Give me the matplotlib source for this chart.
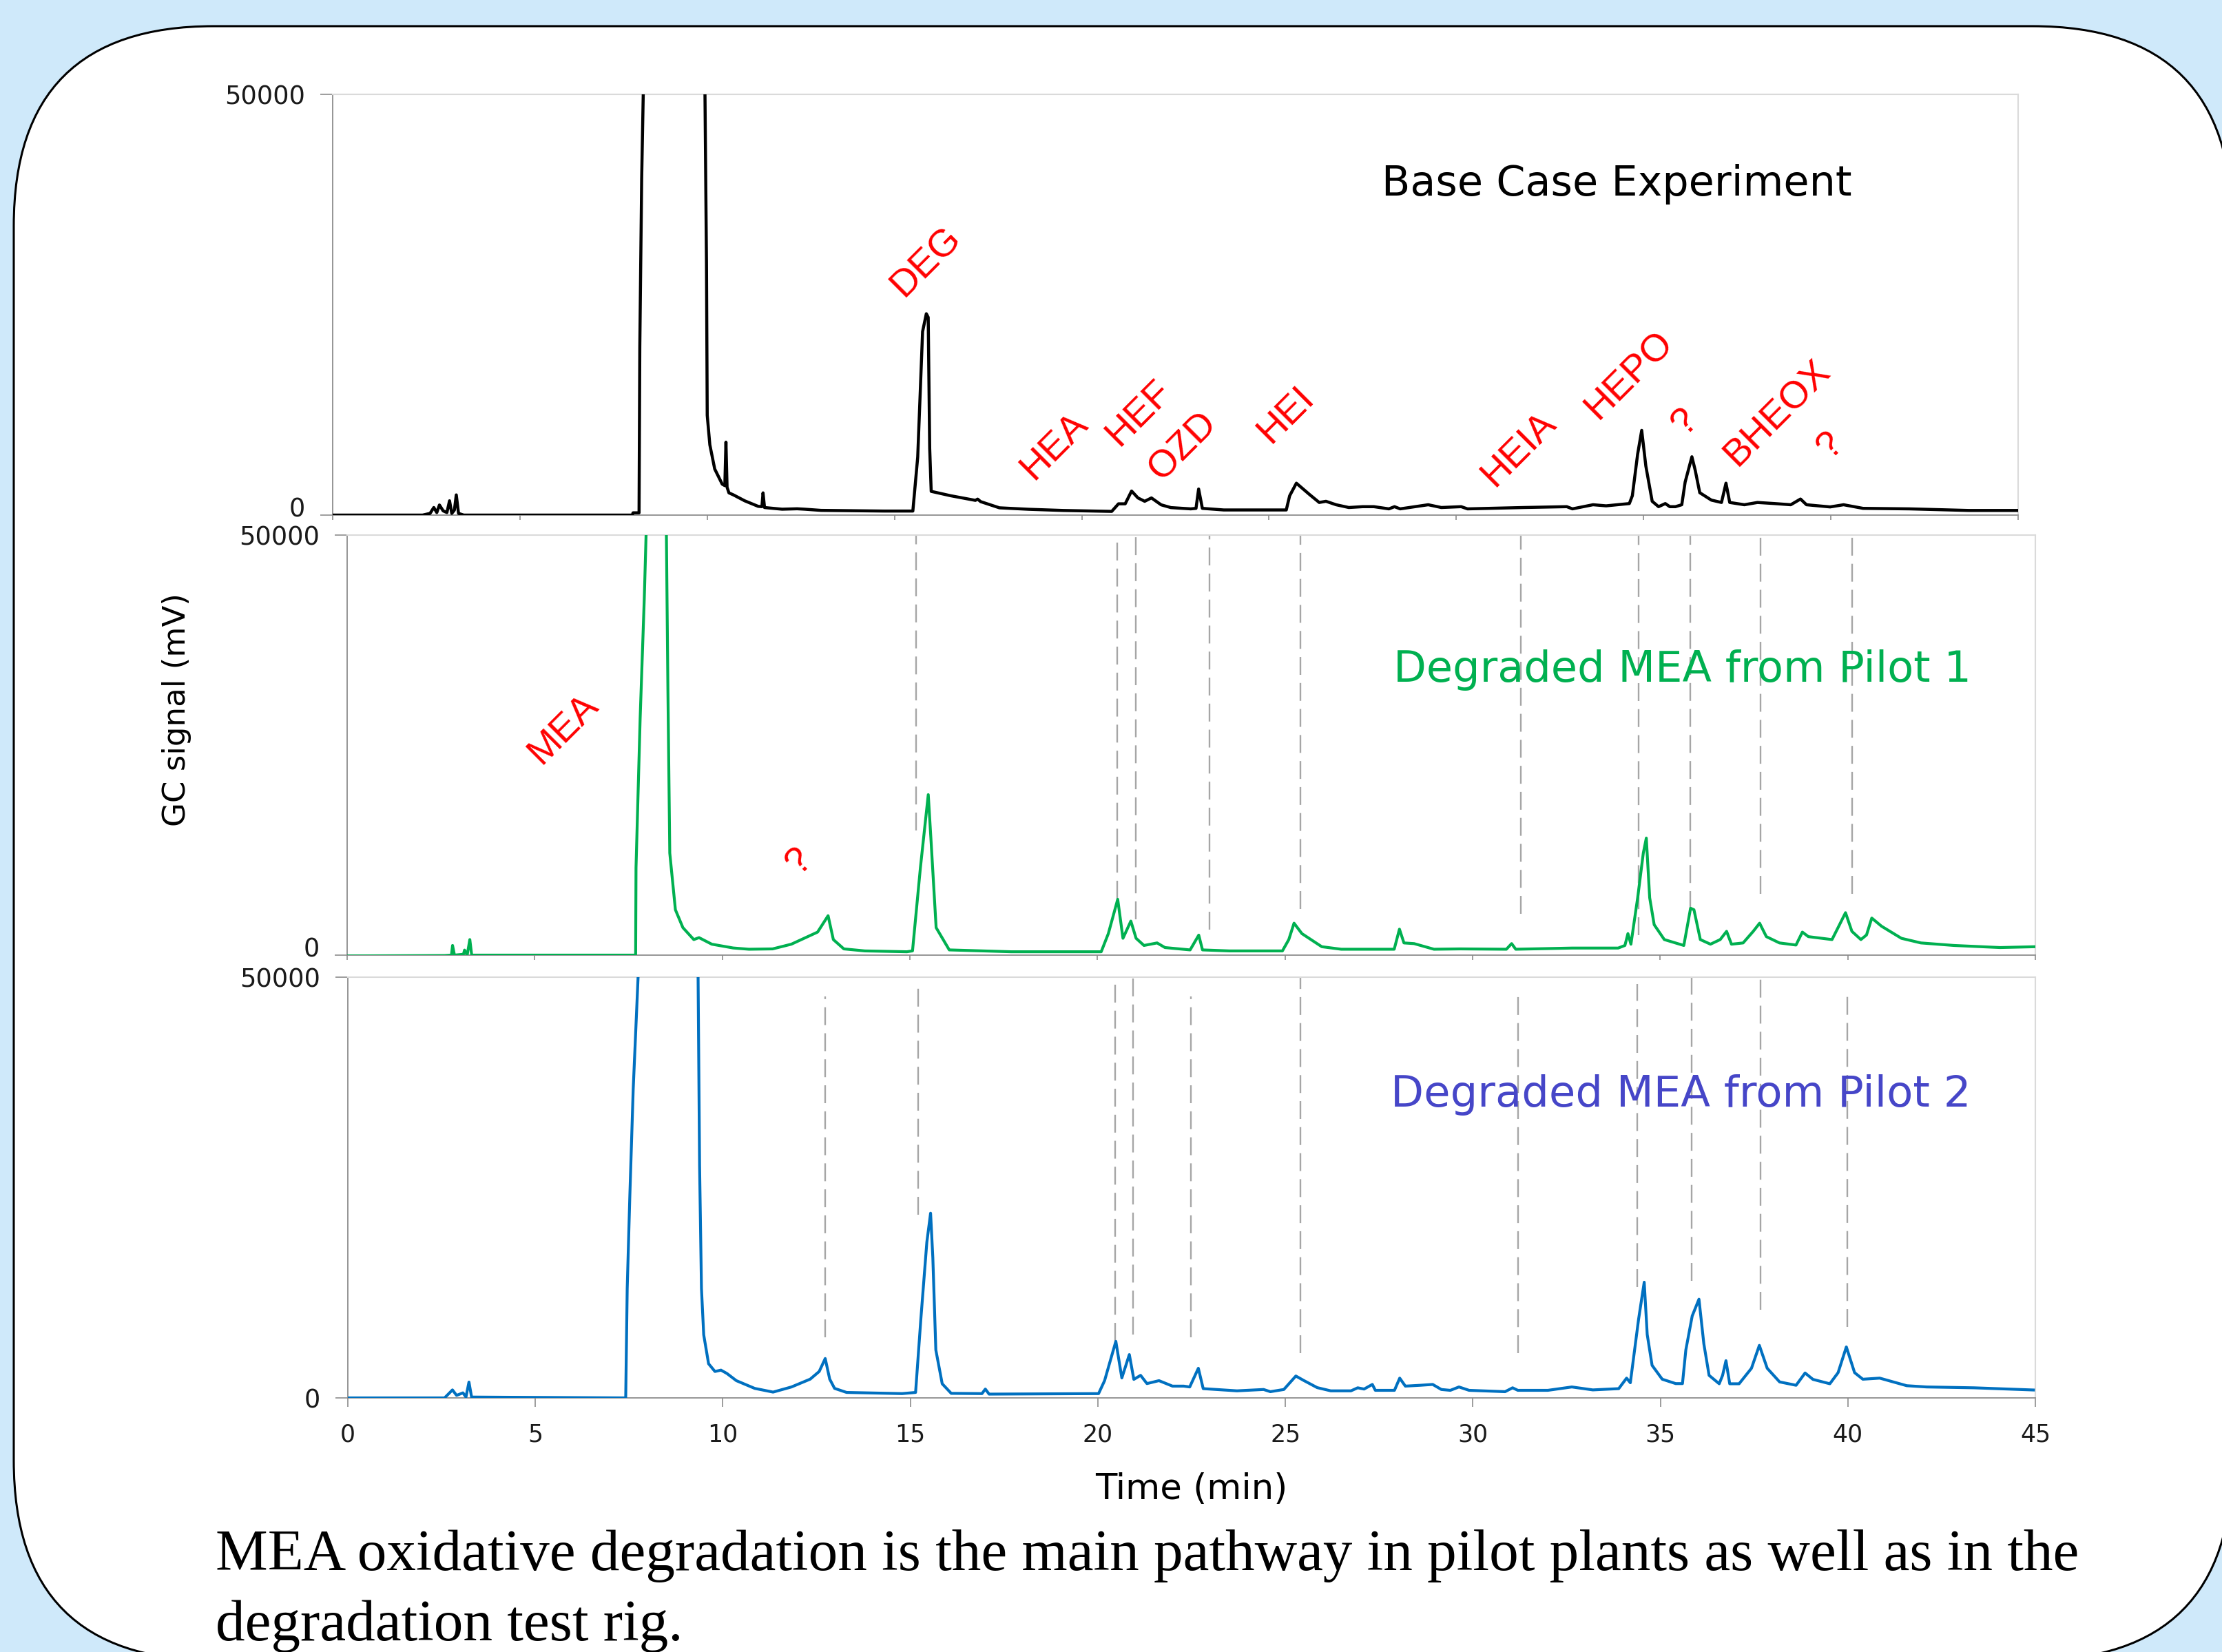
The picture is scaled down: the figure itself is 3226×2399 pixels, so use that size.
import matplotlib
matplotlib.use("Agg")
import matplotlib.pyplot as plt
import matplotlib.transforms as mtransforms
from matplotlib.patches import FancyBboxPatch

# ------------------------------------------------------------
# Chromatogram traces (time in min, signal in mV)
# ------------------------------------------------------------
base_time = [0, 2.4, 2.6, 2.7, 2.78, 2.85, 2.95, 3.05, 3.12, 3.18, 3.25, 3.3, 3.36, 3.5,
             8.0, 8.02, 8.18, 8.2, 8.25, 8.3, 8.4, 9.9, 9.98, 10.0, 10.07, 10.2, 10.4,
             10.47, 10.5, 10.53, 10.58, 10.7, 11.0, 11.36, 11.46, 11.49, 11.53, 11.62,
             12.0, 12.4, 12.6, 13.04, 14.72, 15.49, 15.62, 15.75, 15.85, 15.9, 15.94,
             15.98, 16.5, 17.16, 17.22, 17.3, 17.8, 18.58, 19.5, 20.8, 20.98, 21.16,
             21.33, 21.5, 21.68, 21.86, 22.12, 22.38, 22.91, 23.05, 23.12, 23.22, 23.79,
             25.46, 25.55, 25.73, 26.08, 26.34, 26.52, 26.79, 27.13, 27.5, 27.8, 28.2,
             28.35, 28.5, 29.25, 29.6, 30.13, 30.3, 31.8, 32.95, 33.1, 33.65, 34.0,
             34.62, 34.7, 34.84, 34.95, 35.06, 35.23, 35.4, 35.58, 35.7, 35.85, 36.02,
             36.11, 36.29, 36.38, 36.5, 36.81, 37.08, 37.2, 37.3, 37.69, 38.04, 38.5,
             38.93, 39.19, 39.35, 39.98, 40.34, 40.86, 42.09, 43.68, 45]
base_signal = [0, 0, 200, 900, 300, 1200, 500, 300, 1700, 200, 600, 2400, 200, 0,
               0, 270, 270, 20000, 40000, 52000, 70000, 70000, 30000, 11860, 8350, 5480, 3680,
               3500, 8670, 3300, 2640, 2400, 1700, 1040, 1000, 2640, 900, 860,
               700, 750, 700, 560, 480, 480, 6900, 21800, 23930, 23500, 7950,
               2820, 2300, 1750, 1900, 1600, 865, 690, 550, 440, 1340, 1340,
               2860, 2040, 1640, 2040, 1220, 890, 740, 800, 3100, 800, 610,
               610, 2290, 3790, 2450, 1500, 1640, 1230, 900, 1000, 1000, 740,
               1000, 740, 1230, 900, 1000, 740, 900, 1000, 740, 1230, 1100,
               1370, 2300, 7200, 10070, 5840, 1640, 1000, 1370, 1000, 1000, 1230,
               3930, 6930, 5300, 2660, 1780, 1500, 3790, 1500, 1230, 1500, 1370,
               1230, 1910, 1230, 970, 1230, 800, 740, 550, 550]

pilot1_time = [0, 2.6, 2.78, 2.81, 2.86, 3.1, 3.13, 3.2, 3.27, 3.32, 5, 7.69, 7.7, 7.81,
               7.92, 8.0, 8.1, 8.45, 8.51, 8.55, 8.6, 8.75, 8.95, 9.24, 9.38, 9.72, 10.29,
               10.71, 11.34, 11.84, 12.54, 12.82, 12.96, 13.24, 13.8, 14.92, 15.07, 15.28,
               15.49, 15.56, 15.7, 16.05, 17.7, 19.98, 20.1, 20.29, 20.54, 20.68, 20.89,
               21.03, 21.24, 21.59, 21.8, 22.47, 22.7, 22.8, 23.52, 24.93, 25.1, 25.24,
               25.45, 25.98, 26.5, 27.91, 28.05, 28.17, 28.44, 28.97, 29.67, 30.9, 31.04,
               31.15, 32.65, 33.88, 34.06, 34.14, 34.22, 34.4, 34.55, 34.63, 34.72, 34.84,
               35.11, 35.63, 35.81, 35.9, 36.07, 36.34, 36.6, 36.77, 36.9, 37.21, 37.48,
               37.65, 37.83, 38.18, 38.62, 38.79, 38.95, 39.58, 39.76, 39.94, 40.11, 40.35,
               40.5, 40.64, 40.9, 41.43, 41.95, 42.83, 44.06, 45]
pilot1_signal = [-100, -50, 0, 1150, 0, 100, 600, 0, 1850, 0, 0, 0, 10400, 28150,
                 42380, 55000, 70000, 70000, 50000, 31700, 12150, 5400, 3270, 1850, 2080, 1300, 850,
                 700, 740, 1300, 2740, 4690, 1850, 740, 500, 400, 500, 10380,
                 19100, 13930, 3270, 620, 400, 400, 400, 2560, 6640, 2000, 4050,
                 2000, 1150, 1450, 900, 620, 2380, 620, 500, 500, 1850, 3800,
                 2560, 1000, 700, 700, 3090, 1450, 1370, 700, 740, 700, 1370,
                 700, 840, 840, 1150, 2560, 1300, 6830, 12150, 13930, 6830, 3620,
                 1850, 1150, 5580, 5400, 1850, 1300, 1850, 2830, 1300, 1450, 2830,
                 3800, 2200, 1450, 1200, 2740, 2200, 1850, 3440, 5050, 2830, 1850,
                 2400, 4410, 3440, 2000, 1450, 1150, 900, 1000]

pilot2_time = [0, 2.58, 2.79, 2.9, 3.07, 3.15, 3.23, 3.3, 7.41, 7.45, 7.52, 7.61, 7.74,
               7.9, 9.3, 9.34, 9.38, 9.43, 9.49, 9.62, 9.79, 9.95, 10.11, 10.36, 10.85,
               11.34, 11.83, 12.33, 12.57, 12.73, 12.85, 12.98, 13.3, 14.78, 15.14, 15.28,
               15.44, 15.54, 15.6, 15.68, 15.85, 16.09, 16.91, 17.0, 17.1, 20.02, 20.18,
               20.48, 20.64, 20.84, 20.96, 21.14, 21.31, 21.63, 21.99, 22.29, 22.45, 22.68,
               22.81, 23.71, 24.42, 24.6, 24.96, 25.28, 25.5, 25.85, 26.21, 26.75, 26.93,
               27.1, 27.32, 27.4, 27.91, 28.05, 28.2, 28.6, 28.93, 29.16, 29.4, 29.63,
               29.9, 30.86, 31.06, 31.2, 32.0, 32.64, 33.2, 33.89, 34.1, 34.2, 34.42,
               34.57, 34.65, 34.78, 35.05, 35.41, 35.59, 35.68, 35.85, 36.03, 36.16, 36.3,
               36.57, 36.66, 36.75, 36.85, 37.1, 37.43, 37.64, 37.85, 38.18, 38.62, 38.86,
               39.07, 39.52, 39.74, 39.96, 40.18, 40.4, 40.85, 41.21, 41.57, 42.1, 43.36,
               44.95]
pilot2_signal = [0, 0, 950, 300, 600, 100, 1880, 100, 0, 13000, 24000, 36700, 50000,
                 70000, 70000, 50000, 27600, 13000, 7500, 4060, 3140, 3300, 2900, 2050, 1130,
                 690, 1300, 2230, 3140, 4680, 2230, 1130, 650, 510, 650, 9350,
                 18500, 21950, 16660, 5700, 1680, 540, 510, 1050, 450, 510, 2050,
                 6720, 2370, 5150, 2200, 2680, 1700, 2050, 1400, 1400, 1300, 3520,
                 1100, 840, 1000, 740, 1000, 2600, 2050, 1220, 840, 840, 1200,
                 1050, 1600, 900, 900, 2350, 1400, 1500, 1600, 1000, 900, 1300,
                 900, 740, 1200, 900, 900, 1300, 950, 1100, 2350, 1800, 9350,
                 13750, 7540, 3870, 2220, 1700, 1700, 5700, 9740, 11730, 6430, 2680,
                 1680, 2680, 4420, 1680, 1680, 3520, 6240, 3520, 1900, 1500, 2960,
                 2200, 1680, 3000, 6060, 3000, 2220, 2350, 1900, 1450, 1300, 1200,
                 940]

# dashed guide lines (retention times) and their vertical extent in mV
pilot1_marks = [15.16, 20.52, 21.03, 22.99, 25.41, 31.28, 34.42, 35.80, 37.67, 40.11]
pilot1_mark_low = [14800, 6700, 4300, 3000, 5500, 4900, 2400, 5500, 7300, 7300]
pilot1_mark_high = [50000] * 10

pilot2_marks = [12.73, 15.21, 20.46, 20.93, 22.48, 25.41, 31.21, 34.39, 35.84, 37.67, 39.98]
pilot2_mark_low = [7200, 21770, 6790, 7530, 7200, 5320, 5320, 13170, 13900, 10470, 8430]
pilot2_mark_high = [47700, 48770, 50000, 50000, 47700, 50000, 47870, 49180, 50000, 50000, 48120]

# red compound labels: name, time, signal
base_labels = ["DEG", "HEA", "HEF", "OZD", "HEI", "HEIA", "HEPO", "?", "BHEOX", "?"]
base_label_t = [15.84, 19.28, 21.54, 22.70, 25.46, 31.68, 34.62, 36.11, 38.58, 40.0]
base_label_v = [30100, 8180, 12110, 8180, 11950, 7860, 16610, 11050, 12110, 8260]
pilot1_labels = ["MEA", "?"]
pilot1_label_t = [5.76, 12.06]
pilot1_label_v = [26890, 11150]

x_ticks = list(range(0, 50, 5))

# ------------------------------------------------------------
W, H = 3226, 2399
fig = plt.figure(figsize=(W / 100, H / 100), dpi=100)
fig.patch.set_facecolor("#CFE9FA")

# background card in pixel coordinates
bg = fig.add_axes([0, 0, 1, 1], zorder=0)
bg.set_xlim(0, W)
bg.set_ylim(H, 0)
bg.axis("off")
card = FancyBboxPatch((20, 38), 3221, 2373, boxstyle="round,pad=0,rounding_size=290",
                      facecolor="white", edgecolor="black", linewidth=2.2, clip_on=False)
bg.add_patch(card)


def px_axes(left, top, right, bottom):
    return fig.add_axes([left / W, 1 - bottom / H, (right - left) / W, (bottom - top) / H], zorder=2)


def style(ax, show_xlabels=False, lift_zero=0):
    ax.set_facecolor("none")
    ax.set_xlim(0, 45)
    ax.set_ylim(0, 50000)
    ax.set_yticks([0, 50000])
    ax.set_yticklabels(["0", "50000"])
    ax.set_xticks(x_ticks)
    for side in ["left", "bottom"]:
        ax.spines[side].set_color("#8C8C8C")
        ax.spines[side].set_linewidth(1.3)
    for side in ["top", "right"]:
        ax.spines[side].set_color("#DADADA")
        ax.spines[side].set_linewidth(1.5)
    ax.tick_params(axis="y", length=13, width=1.2, color="#8C8C8C", pad=16,
                   labelsize=26.5, labelcolor="#1A1A1A")
    if show_xlabels:
        ax.tick_params(axis="x", length=9, width=1.2, color="#8C8C8C", pad=17,
                       labelsize=25, labelcolor="#1A1A1A")
    else:
        ax.tick_params(axis="x", length=5, width=1.2, color="#8C8C8C", labelbottom=False)
    if lift_zero:
        # the "0" label sits a little above the baseline, as in the original
        zero = ax.yaxis.get_major_ticks()[0].label1
        zero.set_transform(zero.get_transform() +
                           mtransforms.ScaledTranslation(0, lift_zero / 100, fig.dpi_scale_trans))


ax1 = px_axes(483, 137, 2930, 748)
ax2 = px_axes(504, 777, 2955, 1387)
ax3 = px_axes(505, 1419, 2955, 2030)
style(ax1, lift_zero=12)
style(ax2, lift_zero=12)
style(ax3, show_xlabels=True)

dash_kw = dict(color="#A6A6A6", linewidth=1.7, linestyle=(0, (11, 5)), zorder=1)
for t, lo, hi in zip(pilot1_marks, pilot1_mark_low, pilot1_mark_high):
    ax2.plot([t, t], [lo, hi], **dash_kw)
for t, lo, hi in zip(pilot2_marks, pilot2_mark_low, pilot2_mark_high):
    ax3.plot([t, t], [lo, hi], **dash_kw)

ax1.plot(base_time, base_signal, color="black", linewidth=3.2, zorder=3)
ax2.plot(pilot1_time, pilot1_signal, color="#00B050", linewidth=3.0, zorder=3)
ax3.plot(pilot2_time, pilot2_signal, color="#0070C0", linewidth=3.0, zorder=3)

red_kw = dict(color="#FF0000", fontsize=40, rotation=45, ha="center", va="center",
              family="Liberation Sans", rotation_mode="anchor")
for name, t, v in zip(base_labels, base_label_t, base_label_v):
    ax1.text(t, v, name, **red_kw)
for name, t, v in zip(pilot1_labels, pilot1_label_t, pilot1_label_v):
    ax2.text(t, v, name, **red_kw)

ax1.text(0.762, 0.787, "Base Case Experiment", transform=ax1.transAxes, fontsize=43.5,
         color="black", ha="center", va="center")
ax2.text(0.791, 0.679, "Degraded MEA from Pilot 1", transform=ax2.transAxes, fontsize=44.8,
         color="#00B050", ha="center", va="center", zorder=4)
ax3.text(0.790, 0.720, "Degraded MEA from Pilot 2", transform=ax3.transAxes, fontsize=45,
         color="#4646C8", ha="center", va="center", zorder=4)

fig.text(1730 / W, 1 - 2163 / H, "Time (min)", fontsize=37, ha="center", va="center")
fig.text(257 / W, 1 - 1031 / H, "GC signal (mV)", fontsize=32.5, rotation=90,
         ha="center", va="center")

cap_kw = dict(fontsize=61.3, family="Liberation Serif", ha="left", va="baseline", color="black")
fig.text(313 / W, 1 - 2280 / H,
         "MEA oxidative degradation is the main pathway in pilot plants as well as in the", **cap_kw)
fig.text(313 / W, 1 - 2382 / H, "degradation test rig.", **cap_kw)

fig.savefig("out.png", dpi=100)
